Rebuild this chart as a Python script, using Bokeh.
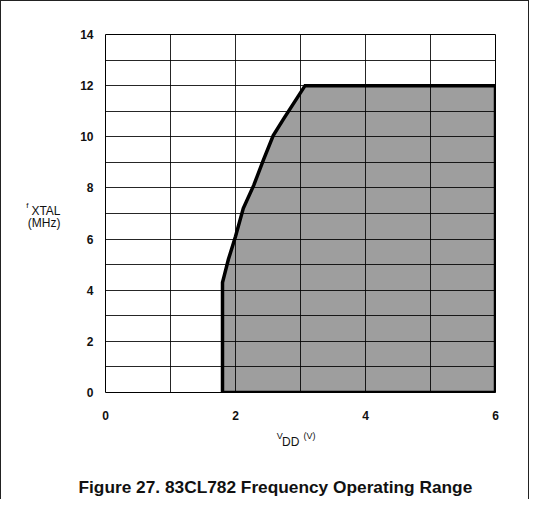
from bokeh.plotting import figure
from bokeh.models import Range1d, FixedTicker, Title, LinearAxis
from bokeh.embed import file_html
from bokeh.resources import INLINE

# Operating-region boundary (V_DD in volts, f_XTAL in MHz)
vdd = [1.8, 1.8, 1.83, 1.89, 2.0, 2.12, 2.28, 2.43, 2.58, 2.74, 3.07, 6.0, 6.0]
fxtal = [0, 4.3, 4.6, 5.2, 6.1, 7.2, 8.1, 9.1, 10.05, 10.7, 12.0, 12.0, 0]

x_ticks = [0, 2, 4, 6]
y_ticks = [0, 2, 4, 6, 8, 10, 12, 14]
x_grid = [0, 1, 2, 3, 4, 5, 6]
y_grid = list(range(0, 15))

FONT = "Liberation Sans"
INK = "#111"

p = figure(width=529, height=499,
           output_backend="svg", toolbar_location=None,
           x_range=Range1d(0, 6), y_range=Range1d(0, 14),
           min_border_left=104, min_border_right=35, min_border_top=33, min_border_bottom=108)
p.styles = {"border-top": "1.5px solid #222", "border-left": "1.5px solid #222",
            "border-right": "1.5px solid #222"}

p.outline_line_color = "black"
p.outline_line_width = 1
p.background_fill_color = "white"
p.border_fill_color = "white"

for g, t in ((p.xgrid, x_grid), (p.ygrid, y_grid)):
    g.ticker = FixedTicker(ticks=t)
    g.grid_line_color = "black"
    g.grid_line_width = 1
    g.grid_line_alpha = 0.85

p.patch(vdd, fxtal, fill_color="black", fill_alpha=0.38,
        line_color="black", line_width=3.5, line_join="miter")


def style_axis(ax, ticks, size, standoff, bold=False):
    ax.ticker = FixedTicker(ticks=ticks)
    ax.axis_line_color = None
    ax.major_tick_line_color = None
    ax.minor_tick_line_color = None
    ax.major_tick_out = 0
    ax.major_tick_in = 0
    ax.major_label_text_font = FONT
    ax.major_label_text_font_size = size
    ax.major_label_text_font_style = "bold" if bold else "normal"
    ax.major_label_text_color = INK
    ax.major_label_standoff = standoff


style_axis(p.xaxis[0], x_ticks, "12px", 18, bold=True)
style_axis(p.yaxis[0], y_ticks, "12px", 12, bold=True)

# y-axis title "f XTAL (MHz)", written as horizontal label text beside the axis
ylab_pos = [7.08, 6.61]
ylab_txt = ["XTAL", "(MHz)"]
ya = LinearAxis()
style_axis(ya, ylab_pos, "12px", 17)
ya.major_label_overrides = dict(zip(ylab_pos, ylab_txt))
p.add_layout(ya, "left")

f_pos = [7.33]
yb = LinearAxis()
style_axis(yb, f_pos, "8px", -4)
yb.major_label_overrides = {f_pos[0]: "f"}
p.add_layout(yb, "left")

# x-axis title "V DD (V)"
xa_pos = [2.68, 3.14]
xa_txt = ["V", "(V)"]
xa = LinearAxis()
style_axis(xa, xa_pos, "9px", 8)
xa.major_label_overrides = dict(zip(xa_pos, xa_txt))
p.add_layout(xa, "below")

xb_pos = [2.85]
xb = LinearAxis()
style_axis(xb, xb_pos, "12px", -9)
xb.major_label_overrides = {xb_pos[0]: "DD"}
p.add_layout(xb, "below")

# spacing between axis title and caption
p.add_layout(Title(text=" ", standoff=20, text_font=FONT, text_font_size="2px"), "below")

# caption
p.add_layout(Title(text="Figure 27. 83CL782 Frequency Operating Range", align="left",
                   offset=-27, standoff=2, vertical_align="top",
                   text_font=FONT, text_font_size="17.3px", text_font_style="bold",
                   text_color=INK), "below")

open("out.html", "w").write(file_html(p, INLINE))
